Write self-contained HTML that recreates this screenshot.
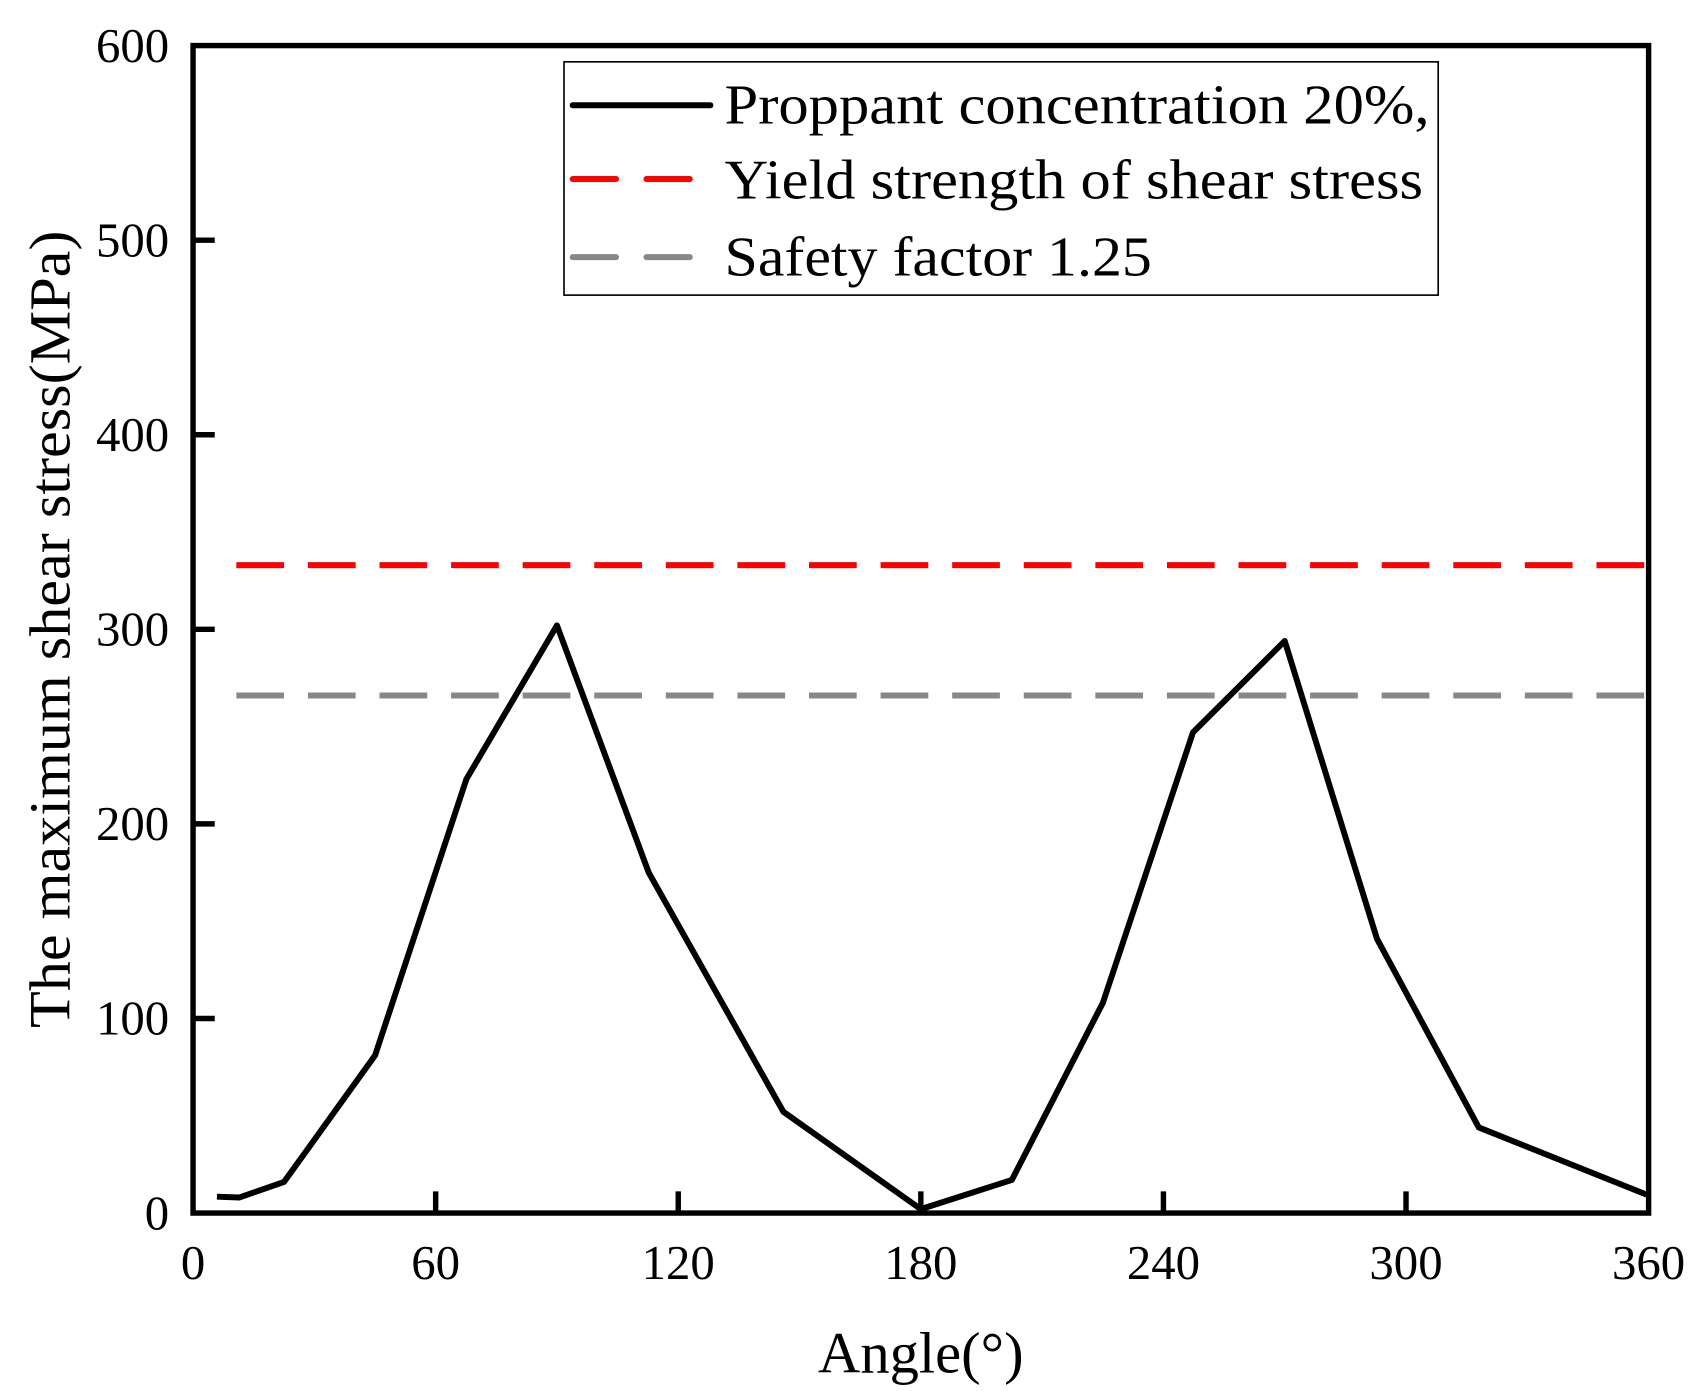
<!DOCTYPE html>
<html><head><meta charset="utf-8"><style>
html,body{margin:0;padding:0;background:#fff;}
svg{display:block;font-family:"Liberation Serif",serif;}
</style></head><body>
<svg id="chart" width="1692" height="1391" viewBox="0 0 1560 1282" preserveAspectRatio="none" xmlns="http://www.w3.org/2000/svg">
<rect width="1560" height="1282" fill="#fff"/>
<g id="plot"></g>
<g id="legend">
  <rect x="520" y="57" width="806" height="215" fill="#fff" stroke="#000" stroke-width="1.5"/>
  <line x1="528" y1="97" x2="655" y2="97" stroke="#000" stroke-width="5.5" stroke-linecap="round"/>
  <text x="668" y="114" font-size="52" textLength="650" lengthAdjust="spacingAndGlyphs">Proppant concentration 20%,</text>
  <line x1="528" y1="165" x2="636" y2="165" stroke="#f00" stroke-width="5.5" stroke-dasharray="40 28" stroke-linecap="round"/>
  <text x="668" y="183" font-size="52" textLength="644" lengthAdjust="spacingAndGlyphs">Yield strength of shear stress</text>
  <line x1="528" y1="237" x2="636" y2="237" stroke="#888" stroke-width="5.5" stroke-dasharray="40 28" stroke-linecap="round"/>
  <text x="668" y="254" font-size="52" textLength="394" lengthAdjust="spacingAndGlyphs">Safety factor 1.25</text>
</g>
<text x="849" y="1265" font-size="54" text-anchor="middle">Angle(°)</text>
<text transform="translate(64,580) rotate(-90)" font-size="54" text-anchor="middle" textLength="735" lengthAdjust="spacingAndGlyphs">The maximum shear stress(MPa)</text>
</svg>
<script>
const angles = [5.9, 11.4, 22.5, 45, 67.6, 90, 112.7, 146, 180, 202.5, 225, 247.3, 270, 292.8, 318, 359.5];
const stress = [8.4, 8, 16, 81, 223, 302, 175, 52, 2, 17, 108, 247, 294, 141, 44, 9.5];
const yieldStrength = 333;
const safetyLevel = 266;
const refStartAngle = 10.7;
const xTicks = [0, 60, 120, 180, 240, 300, 360];
const yTicks = [0, 100, 200, 300, 400, 500, 600];

const L=178,R=1520,T=42,B=1118;
const xs = v => L + (v-0)/(360-0)*(R-L);
const ys = v => B - (v-0)/(600-0)*(B-T);
const NS='http://www.w3.org/2000/svg';
const plot=document.getElementById('plot');
function mk(tag, attrs){const e=document.createElementNS(NS,tag);for(const k in attrs)e.setAttribute(k,attrs[k]);plot.appendChild(e);return e;}

let e;
e=mk('line',{x1:xs(refStartAngle),x2:R,y1:ys(yieldStrength),y2:ys(yieldStrength),stroke:'#f00','stroke-width':5.5,'stroke-dasharray':'44 22'});


e=mk('line',{x1:xs(refStartAngle),x2:R,y1:ys(safetyLevel),y2:ys(safetyLevel),stroke:'#888','stroke-width':5.5,'stroke-dasharray':'44 22'});



const pts=angles.map((a,i)=>xs(a).toFixed(1)+','+ys(stress[i]).toFixed(1)).join(' ');
e=mk('polyline',{points:pts,fill:'none',stroke:'#000','stroke-width':5.5,'stroke-linejoin':'round'});



xTicks.forEach(t=>{
  const x=xs(t);
  if(t!==0&&t!==360){e=mk('line',{x1:x,x2:x,y1:B,y2:B-20,stroke:'#000','stroke-width':5});
  
  }
  e=mk('text',{x:x,y:B+61,'font-size':45,'text-anchor':'middle'});
  e.textContent=t;
  
  
});
yTicks.forEach(t=>{
  const y=ys(t);
  if(t!==0&&t!==600){e=mk('line',{x1:L,x2:L+20,y1:y,y2:y,stroke:'#000','stroke-width':5});
  
  }
  e=mk('text',{x:L-22,y:y+15,'font-size':45,'text-anchor':'end'});
  e.textContent=t;
  
  
});
e=mk('rect',{x:L,y:T,width:R-L,height:B-T,fill:'none',stroke:'#000','stroke-width':5});


</script>
</body></html>
